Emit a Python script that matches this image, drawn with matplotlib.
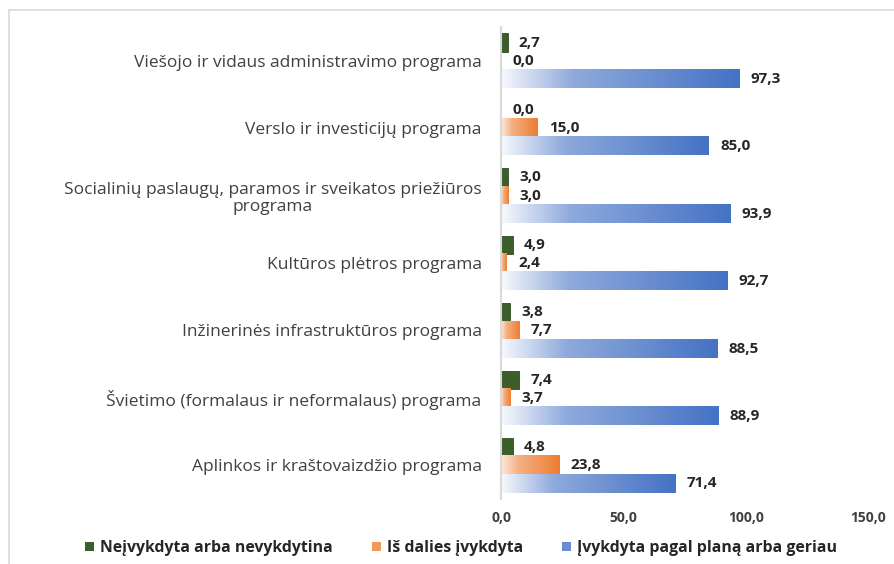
import numpy as np
import matplotlib
matplotlib.use("Agg")
import matplotlib.pyplot as plt
from matplotlib.colors import LinearSegmentedColormap
from matplotlib.patches import Patch, Rectangle

plt.rcParams['font.family'] = ['Open Sans', 'DejaVu Sans']

# bottom to top, as drawn
categories = [
    "Aplinkos ir kraštovaizdžio programa",
    "Švietimo (formalaus ir neformalaus) programa",
    "Inžinerinės infrastruktūros programa",
    "Kultūros plėtros programa",
    "Socialinių paslaugų, paramos ir sveikatos priežiūros\nprograma",
    "Verslo ir investicijų programa",
    "Viešojo ir vidaus administravimo programa",
]
not_done = [4.8, 7.4, 3.8, 4.9, 3.0, 0.0, 2.7]
partly_done = [23.8, 3.7, 7.7, 2.4, 3.0, 15.0, 0.0]
done = [71.4, 88.9, 88.5, 92.7, 93.9, 85.0, 97.3]

series_names = ["Neįvykdyta arba nevykdytina", "Iš dalies įvykdyta",
                "Įvykdyta pagal planą arba geriau"]
xticks = [0, 50, 100, 150]

GREEN = "#3B5E2A"
orange_cmap = LinearSegmentedColormap.from_list(
    "or", [(0, "#FDEBDD"), (0.3, "#F4B083"), (1, "#ED7D31")])
blue_cmap = LinearSegmentedColormap.from_list(
    "bl", [(0, "#F7F9FD"), (0.3, "#8FAADC"), (1, "#4472C4")])

fig = plt.figure(figsize=(8.94, 5.64), dpi=100)
ax = fig.add_axes([501 / 894, 1 - 499 / 564, 367 / 894, 472 / 564])

# chart border (cut off at right / bottom like the screenshot)
fig.patches.append(Rectangle((9 / 894, -0.1), 1.2, 1 - 10 / 564 + 0.1,
                             transform=fig.transFigure, fill=False,
                             edgecolor="#D9D9D9", linewidth=1.2))

h = 0.27
grad = np.linspace(0, 1, 256).reshape(1, -1)
ypos = np.arange(len(categories))


def grad_bar(v, y, cmap):
    if v <= 0:
        return
    ax.imshow(grad, extent=[0, v, y - h / 2, y + h / 2], aspect='auto',
              cmap=cmap, interpolation='bilinear', zorder=2)


for i in ypos:
    if not_done[i] > 0:
        ax.barh(i + h, not_done[i], height=h, color=GREEN,
                edgecolor="#2F4A22", linewidth=0.6, zorder=2)
    grad_bar(partly_done[i], i, orange_cmap)
    grad_bar(done[i], i - h, blue_cmap)
    for v, y in [(not_done[i], i + h), (partly_done[i], i), (done[i], i - h)]:
        ax.annotate(f"{v:.1f}".replace(".", ","), (v, y), xytext=(8, 0),
                    textcoords='offset points', ha='left', va='center',
                    fontsize=11, fontweight='bold', color="#262626")

ax.set_xlim(0, 150)
ax.set_ylim(-0.5, len(categories) - 0.5)
ax.set_yticks(ypos)
ax.set_yticklabels(categories, fontsize=12.5, color="#404040",
                   multialignment='center', linespacing=1.1)
ax.set_xticks(xticks)
ax.set_xticklabels([f"{t:.1f}".replace(".", ",") for t in xticks],
                   fontsize=10, fontweight='bold', color="#404040")
ax.tick_params(axis='y', length=0, pad=14)
ax.tick_params(axis='x', length=0, pad=9)
for s in ['top', 'right', 'bottom']:
    ax.spines[s].set_visible(False)
ax.spines['left'].set_color("#D9D9D9")
ax.spines['left'].set_linewidth(1.5)
ax.spines['left'].set_zorder(3)

handles = [Patch(facecolor=GREEN), Patch(facecolor="#F29A5E"),
           Patch(facecolor="#6A8DD0")]
fig.legend(handles, series_names, loc='center', ncol=3,
           bbox_to_anchor=(461 / 894, 1 - 548 / 564), frameon=False,
           prop={'size': 11.4, 'weight': 'bold'}, handlelength=0.55,
           handleheight=0.55, handletextpad=0.38, columnspacing=2.5,
           labelcolor="#262626")

fig.savefig("out.png", dpi=100)
